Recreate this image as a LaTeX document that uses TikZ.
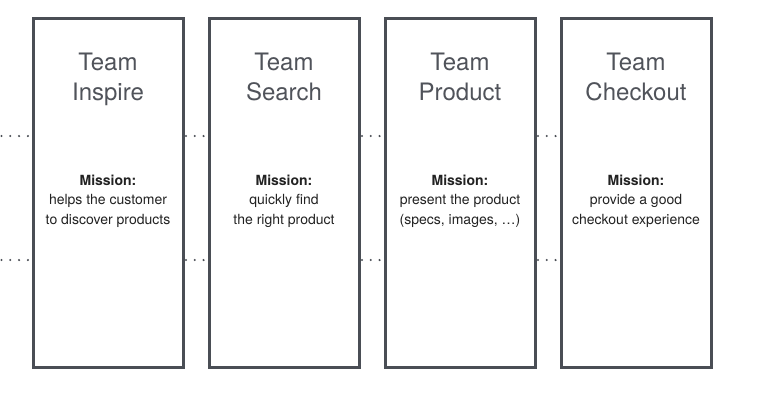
\documentclass[tikz,border=0pt]{standalone}
\usepackage{fontspec}
\setmainfont{TeX Gyre Heros}
\definecolor{boxgray}{HTML}{4A4E55}
\definecolor{titlegray}{HTML}{50535A}
\definecolor{txt}{HTML}{222222}
\begin{document}
\begin{tikzpicture}[x=1pt,y=-1pt,
  teambox/.style={draw=boxgray, line width=3pt, fill=white, minimum width=150pt, minimum height=349pt, inner sep=0pt, outer sep=0pt},
  title/.style={text=titlegray, font=\fontsize{24}{29.5}\selectfont, align=center, anchor=base, inner sep=0pt},
  mission/.style={text=txt, font=\fontsize{14}{19.5}\selectfont, align=center, anchor=base, inner sep=0pt},
  dotline/.style={draw=boxgray, line width=2.3pt, line cap=round, dash pattern=on 0pt off 8.8pt}]
\useasboundingbox[fill=white] (0,0) rectangle (772,400);
\node[teambox] (b1) at (108,192.5) {};
\node[teambox] (b2) at (284,192.5) {};
\node[teambox] (b3) at (460,192.5) {};
\node[teambox] (b4) at (636,192.5) {};
\node[title] (t1) at (108,100) {Team\\Inspire};
\node[title] (t2) at (284,100) {Team\\Search};
\node[title] (t3) at (460,100) {Team\\Product};
\node[title] (t4) at (636,100) {Team\\Checkout};
\node[mission] (m1) at (108,224) {\textbf{Mission:}\\helps the customer\\to discover products};
\node[mission] (m2) at (284,224) {\textbf{Mission:}\\quickly find\\the right product};
\node[mission] (m3) at (460,224) {\textbf{Mission:}\\present the product\\(specs, images, …)};
\node[mission] (m4) at (636,224) {\textbf{Mission:}\\provide a good\\checkout experience};
\coordinate (la) at (1.5,136);
\coordinate (lb) at (1.5,260);
\draw[dotline] (la) -- ([xshift=-2pt]b1.west |- la);
\draw[dotline] (lb) -- ([xshift=-2pt]b1.west |- lb);
\foreach \a/\b in {b1/b2,b2/b3,b3/b4}{
  \draw[dotline] ([xshift=3pt]\a.east |- la) -- ([xshift=-2pt]\b.west |- la);
  \draw[dotline] ([xshift=3pt]\a.east |- lb) -- ([xshift=-2pt]\b.west |- lb);
}
\end{tikzpicture}
\end{document}
